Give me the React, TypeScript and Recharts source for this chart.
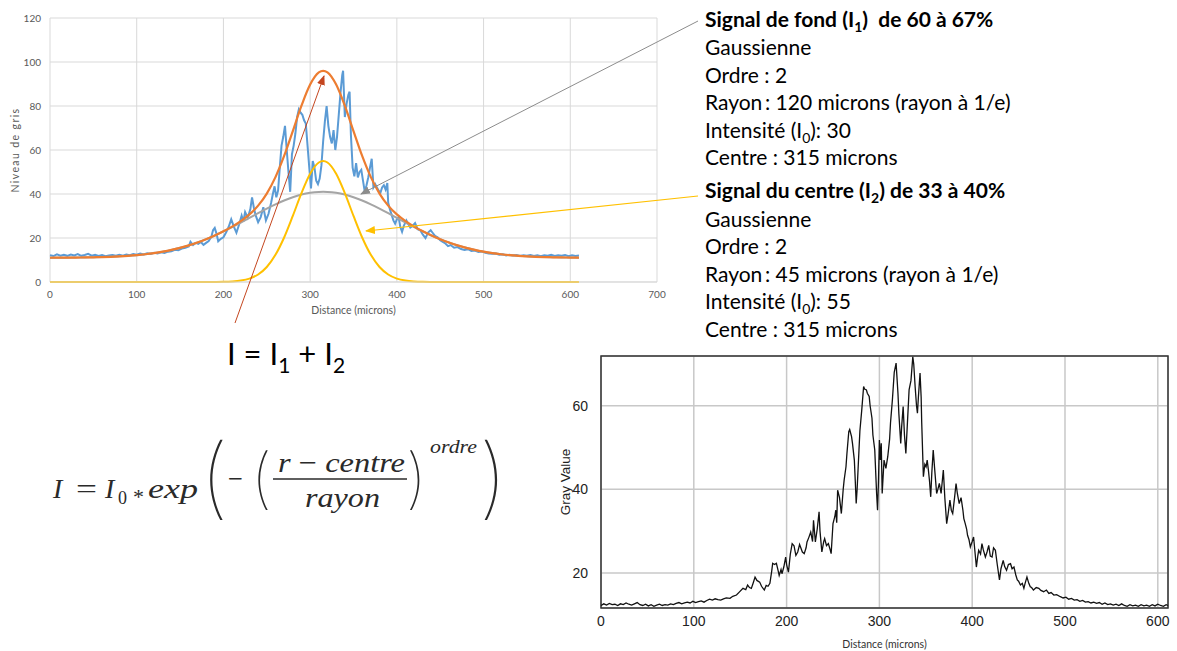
import React from "react";
import { CartesianGrid, Line, LineChart, ReferenceArea, XAxis, YAxis } from "recharts";

// ---- top chart (Excel fit) ----
const topXTicks = [0, 100, 200, 300, 400, 500, 600, 700];
const topYTicks = [0, 20, 40, 60, 80, 100, 120];

const fitDistance = [
  0, 10, 20, 30, 40, 50, 60, 70, 80, 90, 100, 110, 120, 130, 140, 150, 160, 170, 180, 190, 200, 210, 220, 230,
  240, 250, 260, 270, 280, 290, 300, 310, 315, 320, 330, 340, 350, 360, 370, 380, 390, 400, 410, 420, 430, 440,
  450, 460, 470, 480, 490, 500, 510, 520, 530, 540, 550, 560, 570, 580, 590, 600, 610,
];
// signal de fond (I1), grey
const fitBackground = [
  11.03, 11.05, 11.07, 11.11, 11.16, 11.23, 11.33, 11.46, 11.65, 11.89, 12.21, 12.62, 13.14, 13.79, 14.58, 15.53,
  16.66, 17.97, 19.46, 21.14, 22.97, 24.95, 27.03, 29.16, 31.3, 33.37, 35.32, 37.06, 38.55, 39.73, 40.54, 40.95,
  41.0, 40.95, 40.54, 39.73, 38.55, 37.06, 35.32, 33.37, 31.3, 29.16, 27.03, 24.95, 22.97, 21.14, 19.46, 17.97,
  16.66, 15.53, 14.58, 13.79, 13.14, 12.62, 12.21, 11.89, 11.65, 11.46, 11.33, 11.23, 11.16, 11.11, 11.07,
];
// signal du centre (I2), yellow
const fitCentre = [
  0, 0, 0, 0, 0, 0, 0, 0, 0, 0, 0, 0, 0, 0, 0, 0, 0, 0, 0.01, 0.03, 0.08, 0.24, 0.64, 1.55, 3.42, 6.83, 12.35,
  20.23, 30.04, 40.4, 49.21, 54.33, 55.0, 54.33, 49.21, 40.4, 30.04, 20.23, 12.35, 6.83, 3.42, 1.55, 0.64, 0.24,
  0.08, 0.03, 0.01, 0, 0, 0, 0, 0, 0, 0, 0, 0, 0, 0, 0, 0, 0, 0, 0,
];
// I = I1 + I2, orange
const fitTotal = [
  11.03, 11.05, 11.07, 11.11, 11.16, 11.23, 11.33, 11.46, 11.65, 11.89, 12.21, 12.62, 13.14, 13.79, 14.58, 15.53,
  16.66, 17.97, 19.47, 21.17, 23.05, 25.19, 27.67, 30.71, 34.72, 40.2, 47.67, 57.29, 68.59, 80.13, 89.75, 95.28,
  96.0, 95.28, 89.75, 80.13, 68.59, 57.29, 47.67, 40.2, 34.72, 30.71, 27.67, 25.19, 23.05, 21.17, 19.47, 17.97,
  16.66, 15.53, 14.58, 13.79, 13.14, 12.62, 12.21, 11.89, 11.65, 11.46, 11.33, 11.23, 11.16, 11.11, 11.07,
];

// measured profile, blue
const measuredDistance = [
  0, 4, 8, 12, 16, 20, 24, 28, 32, 36, 40, 44, 48, 52, 56, 60, 64, 68, 72, 76, 80, 84, 88, 92, 96, 100, 104, 108,
  112, 116, 120, 124, 128, 132, 136, 140, 144, 148, 152, 156, 160, 162, 165, 168, 171, 174, 177, 180, 183, 186,
  188, 190, 192, 194, 197, 200, 203, 206, 209, 212, 215, 218, 221, 223, 225, 228, 231, 233, 235, 237, 240, 243,
  246, 249, 252, 255, 257, 259, 261, 263, 265, 267, 269, 271, 273, 275, 277, 279, 281, 283, 285, 287, 289, 291,
  293, 295, 297, 299, 301, 303, 305, 307, 309, 311, 313, 315, 317, 319, 321, 323, 325, 327, 329, 331, 333, 335,
  337, 338, 340, 342, 344, 345.5, 347, 349, 351, 353, 355, 357, 359, 361, 363, 365, 367, 369, 371, 373, 375, 377,
  379, 381, 383, 385, 387, 389, 390, 392, 394, 396, 398, 400, 402, 404, 406, 408, 411, 413, 415.5, 418, 421, 424,
  427, 430, 433, 436, 439, 441, 444, 447, 450, 453, 456, 459, 462, 466, 470, 474, 478, 482, 486, 490, 494, 498,
  502, 506, 510, 514, 518, 522, 526, 530, 534, 538, 542, 546, 550, 554, 558, 562, 566, 570, 574, 578, 582, 586,
  590, 594, 598, 602, 606, 610,
];
const measuredGray = [
  12.2, 11.8, 12.6, 12.0, 12.4, 11.9, 12.5, 12.1, 12.7, 11.9, 12.3, 12.8, 12.0, 12.4, 11.8, 12.2, 11.7, 12.1, 12.3,
  11.9, 12.4, 12.0, 12.5, 12.2, 12.7, 12.4, 12.9, 12.5, 13.0, 12.7, 13.3, 13.0, 13.5, 13.2, 13.8, 14.0, 14.6, 14.4,
  15.2, 15.6, 16.2, 18.3, 16.8, 17.8, 17.3, 18.2, 16.9, 17.8, 18.6, 20.5, 23.5, 24.6, 22.0, 18.5, 19.6, 20.3, 22.5,
  25.0, 28.5, 25.2, 22.4, 26.0, 30.2, 27.5, 31.8, 29.2, 33.0, 38.5, 34.0, 30.5, 27.2, 29.5, 34.0, 28.0, 31.0, 36.0,
  40.0, 43.5, 38.5, 41.5, 52.0, 62.0, 66.0, 71.0, 60.0, 50.0, 41.0, 58.0, 62.0, 67.5, 75.0, 78.5, 77.0, 76.0, 73.5,
  72.0, 62.0, 52.0, 42.5, 55.0, 52.0, 46.0, 44.5, 47.0, 53.0, 64.0, 73.0, 80.0, 71.0, 66.0, 63.0, 69.0, 60.0, 66.0,
  76.0, 86.0, 94.0, 96.0, 75.0, 81.0, 85.0, 86.5, 67.0, 52.0, 48.0, 54.0, 47.5, 50.0, 51.0, 46.0, 41.0, 44.0, 47.5,
  52.0, 56.0, 43.0, 44.5, 43.0, 41.5, 40.5, 43.0, 44.0, 42.0, 45.0, 36.0, 33.0, 30.5, 28.0, 26.5, 28.5, 29.5, 25.0,
  22.8, 25.5, 28.0, 26.5, 24.8, 25.5, 26.8, 24.0, 23.5, 21.5, 20.0, 22.5, 23.5, 22.5, 21.0, 20.3, 19.0, 18.2, 17.5,
  16.3, 16.8, 15.6, 15.9, 15.0, 14.6, 14.9, 14.1, 14.3, 13.7, 13.9, 13.3, 13.0, 12.8, 12.9, 12.4, 12.6, 12.1, 12.4,
  12.0, 12.3, 11.8, 12.2, 11.9, 12.3, 11.8, 12.1, 11.7, 12.2, 11.9, 12.4, 11.8, 12.2, 11.9, 12.3, 11.7, 12.1, 11.8,
  12.0,
];

// ---- bottom chart (ImageJ profile) ----
const bottomXTicks = [0, 100, 200, 300, 400, 500, 600];
const bottomYTicks = [20, 40, 60];

const profileDistance = [
  0, 3, 6, 9, 12, 15, 18, 21, 24, 27, 30, 33, 36, 39, 42, 45, 48, 51, 54, 57, 60, 63, 66, 69, 72, 75, 78, 81, 84,
  87, 90, 93, 96, 99, 102, 105, 108, 111, 114, 117, 120, 123, 126, 129, 132, 135, 139, 142, 146, 149, 153, 156,
  158, 160, 162, 164, 166, 168, 171, 173, 176, 178, 180, 182, 184, 185, 187, 189, 191, 192, 194, 195, 197, 199,
  200, 202, 204, 206, 208, 210, 212, 214, 215, 217, 219, 221, 222, 224, 226, 228, 229, 230, 231, 233, 235, 236,
  238, 240, 241, 243, 245, 247, 248, 250, 252, 253, 254, 255, 257, 259, 261, 262, 264, 265, 267, 268, 270, 271,
  273, 274, 275, 276, 278, 279, 281, 283, 284, 286, 287, 289, 290, 292, 293, 295, 297, 298, 299, 300, 301, 302,
  303, 305, 307, 309, 311, 312, 314, 316, 318, 320, 321, 323, 324, 325.6, 327, 328.5, 330, 332, 334, 336, 337,
  338.5, 340, 341, 342, 343.8, 345, 345.6, 347.4, 349, 350.3, 351.5, 352.8, 354, 355.3, 356.5, 358, 359.5, 361.7,
  363, 364.6, 366.5, 368.9, 370.5, 372.5, 374, 376, 377.5, 379, 381, 382.6, 384, 386, 388, 390, 391, 392.5, 394,
  395, 396.5, 398, 400, 401.5, 403, 404.5, 406, 407, 409, 410.5, 412, 414.2, 416, 417.8, 419.5, 421.4, 423, 425,
  427, 429.4, 431, 433.4, 435, 437, 439, 441.3, 443, 445, 447, 448.6, 450, 452, 454, 455.7, 457, 459, 461, 462.6,
  464, 466, 469, 471.8, 474, 477, 480, 482.6, 485, 488, 491, 495, 498, 501, 504, 507, 510, 513, 516, 519, 522,
  525, 528, 531, 534, 537, 540, 543, 546, 549, 552, 555, 558, 561, 564, 567, 570, 573, 576, 579, 582, 585, 588,
  591, 594, 597, 600, 603, 606, 609, 611,
];
const profileGray = [
  12.2, 12.6, 12.3, 12.7, 12.4, 12.5, 12.2, 12.6, 12.4, 12.8, 12.5, 12.3, 12.6, 12.9, 12.4, 12.2, 12.5, 12.1, 12.4,
  12.0, 12.3, 12.5, 12.2, 12.4, 12.3, 12.6, 12.4, 12.7, 12.9, 12.6, 12.8, 13.0, 12.8, 13.2, 12.9, 13.1, 13.3, 13.0,
  13.4, 13.7, 13.5, 13.8, 13.6, 13.5, 13.8, 14.0, 13.9, 14.4, 14.7, 15.4, 16.3, 16.0, 17.1, 16.5, 16.3, 17.6, 19.0,
  18.2, 17.8, 16.8, 15.9, 17.0, 16.8, 17.5, 20.5, 22.3, 22.0, 22.3, 20.4, 19.4, 20.8, 19.8, 21.4, 23.8, 22.0, 20.2,
  24.5, 27.0, 26.5, 24.2, 25.0, 26.8, 26.2, 25.0, 24.6, 26.0, 27.4, 28.5, 29.8, 27.5, 32.6, 30.0, 27.4, 30.5, 34.6,
  30.0, 25.0, 27.5, 28.2, 26.5, 27.0, 25.5, 24.6, 31.8, 33.5, 35.0, 32.0, 39.8, 38.0, 34.2, 40.0, 42.2, 45.4, 48.5,
  53.8, 54.3, 52.6, 51.0, 47.0, 42.0, 36.6, 40.0, 49.4, 54.0, 59.0, 64.6, 64.0, 63.8, 63.0, 62.2, 60.0, 57.0, 53.0,
  49.4, 39.0, 35.0, 42.0, 51.8, 47.0, 51.0, 39.0, 47.0, 45.0, 47.8, 52.0, 56.0, 61.4, 68.0, 70.2, 63.0, 58.0, 51.0,
  55.0, 59.8, 53.0, 48.6, 55.0, 63.8, 66.0, 71.7, 70.0, 64.6, 60.0, 58.2, 62.0, 67.8, 62.0, 56.0, 43.0, 46.0, 45.4,
  47.0, 44.6, 42.0, 38.2, 44.0, 49.4, 45.0, 39.0, 40.0, 41.4, 39.0, 44.6, 38.0, 31.8, 34.0, 37.4, 35.0, 34.2, 38.0,
  41.4, 39.0, 36.6, 38.0, 35.0, 33.0, 31.8, 30.5, 29.0, 28.0, 26.2, 27.5, 28.6, 25.0, 21.4, 24.0, 25.4, 24.5, 27.0,
  25.5, 23.8, 25.0, 26.6, 24.0, 23.8, 26.0, 25.4, 22.0, 18.3, 21.0, 23.0, 21.5, 20.6, 22.0, 22.2, 21.0, 21.4, 19.5,
  18.3, 18.0, 17.1, 17.5, 16.3, 17.5, 19.0, 17.5, 16.7, 16.5, 15.9, 16.5, 16.3, 15.8, 15.5, 15.9, 15.1, 15.3, 14.7,
  14.8, 14.3, 14.0, 14.2, 13.7, 13.9, 13.5, 13.6, 13.2, 13.4, 13.0, 13.1, 12.8, 13.0, 12.7, 12.9, 12.5, 12.8, 12.4,
  12.6, 12.3, 12.5, 12.2, 12.6, 12.2, 12.0, 12.4, 12.1, 12.3, 12.0, 12.4, 12.1, 12.3, 12.0, 12.4, 12.1, 12.5, 12.2,
  12.0, 12.4, 12.2,
];

const fitRows = fitDistance.map((x, i) => ({
  x,
  background: fitBackground[i],
  centre: fitCentre[i],
  total: fitTotal[i],
}));
const measuredRows = measuredDistance.map((x, i) => ({ x, gray: measuredGray[i] }));
const profileRows = profileDistance.map((x, i) => ({ x, gray: profileGray[i] }));

const excelFont = "Lato, 'Open Sans', sans-serif";
const arialFont = "'Liberation Sans', Arial, sans-serif";
const axisGrey = "#595959";

function ExcelChart() {
  return (
    <LineChart width={680} height={322} margin={{ top: 18, right: 23, bottom: 0, left: 0 }}>
      <CartesianGrid stroke="#d9d9d9" />
      <XAxis
        type="number"
        dataKey="x"
        domain={[0, 700]}
        ticks={topXTicks}
        height={40}
        tickSize={0}
        tickMargin={9}
        axisLine={{ stroke: "#d9d9d9" }}
        tick={{ fill: axisGrey, fontSize: 10, fontFamily: excelFont }}
        label={{ value: "Distance (microns)", position: "insideBottom", offset: 8, style: { fill: axisGrey, fontSize: 10.5, fontFamily: excelFont } }}
      />
      <YAxis
        type="number"
        domain={[0, 120]}
        ticks={topYTicks}
        width={50}
        tickSize={0}
        tickMargin={9}
        axisLine={false}
        tick={{ fill: axisGrey, fontSize: 10, fontFamily: excelFont }}
        label={{ value: "Niveau de gris", angle: -90, position: "insideLeft", offset: 15, style: { fill: axisGrey, fontSize: 10.5, fontFamily: excelFont, textAnchor: "middle", letterSpacing: 1.4 } }}
      />
      <Line data={measuredRows} dataKey="gray" type="linear" stroke="#5b9bd5" strokeWidth={2} dot={false} isAnimationActive={false} />
      <Line data={fitRows} dataKey="background" type="monotone" stroke="#a5a5a5" strokeWidth={2} dot={false} isAnimationActive={false} />
      <Line data={fitRows} dataKey="centre" type="monotone" stroke="#ffc000" strokeWidth={2} dot={false} isAnimationActive={false} />
      <Line data={fitRows} dataKey="total" type="monotone" stroke="#ed7d31" strokeWidth={2.2} dot={false} isAnimationActive={false} />
    </LineChart>
  );
}

function ImageJChart() {
  return (
    <LineChart width={637} height={311} margin={{ top: 16, right: 9, bottom: 0, left: 0 }}>
      <CartesianGrid stroke="#c8c8c8" strokeWidth={1.5} />
      <XAxis
        type="number"
        dataKey="x"
        domain={[0, 611]}
        ticks={bottomXTicks}
        height={43}
        tickSize={0}
        tickMargin={8}
        axisLine={false}
        tick={{ fill: "#222", fontSize: 14, fontFamily: arialFont }}
        label={{ value: "Distance (microns)", position: "insideBottom", offset: 3, style: { fill: "#333", fontSize: 10.5, fontFamily: excelFont } }}
      />
      <YAxis
        type="number"
        domain={[11.6, 71.9]}
        ticks={bottomYTicks}
        width={61}
        tickSize={0}
        tickMargin={13}
        axisLine={false}
        tick={{ fill: "#222", fontSize: 14, fontFamily: arialFont }}
        label={{ value: "Gray Value", angle: -90, position: "insideLeft", offset: 25, style: { fill: "#222", fontSize: 13.5, fontFamily: arialFont, textAnchor: "middle" } }}
      />
      <Line data={profileRows} dataKey="gray" type="linear" stroke="#111" strokeWidth={1.3} dot={false} isAnimationActive={false} />
      <ReferenceArea x1={0} x2={611} y1={11.6} y2={71.9} fill="none" stroke="#333" strokeWidth={1.5} ifOverflow="visible" />
    </LineChart>
  );
}

const noteLines = [
  { y: 27, bold: true, parts: ["Signal de fond (I", "1", ")\u00a0 de 60 à 67%"] },
  { y: 55, parts: ["Gaussienne"] },
  { y: 82.5, parts: ["Ordre : 2"] },
  { y: 110, parts: ["Rayon\u2009: 120 microns (rayon à 1/e)"] },
  { y: 137.7, parts: ["Intensité (I", "0", "): 30"] },
  { y: 165, parts: ["Centre : 315 microns"] },
  { y: 198.3, bold: true, parts: ["Signal du centre (I", "2", ") de 33 à 40%"] },
  { y: 226.7, parts: ["Gaussienne"] },
  { y: 254, parts: ["Ordre : 2"] },
  { y: 281.7, parts: ["Rayon\u2009: 45 microns (rayon à 1/e)"] },
  { y: 309.3, parts: ["Intensité (I", "0", "): 55"] },
  { y: 336.7, parts: ["Centre : 315 microns"] },
];

// tall, thin parenthesis glyph for the formula
function Paren({ x, top, bottom, fs, sx, close }: { x: number; top: number; bottom: number; fs: number; sx: number; close?: boolean }) {
  const asc = 0.8;
  const desc = 0.22;
  const sy = (bottom - top) / ((asc + desc) * fs);
  const yb = bottom - desc * fs * sy;
  return (
    <text transform={`translate(${x},${yb}) scale(${sx},${sy})`} fontSize={fs} fontFamily="Inter, 'DejaVu Sans', sans-serif" fontWeight={100}>
      {close ? ")" : "("}
    </text>
  );
}

function Overlay() {
  const serif = "'Liberation Serif', 'DejaVu Serif', serif";
  return (
    <svg width={1177} height={651} style={{ position: "absolute", left: 0, top: 0, pointerEvents: "none" }}>
      <defs>
        <marker id="headRed" markerWidth="10" markerHeight="8" refX="9" refY="4" orient="auto" markerUnits="userSpaceOnUse">
          <path d="M0,0 L10,4 L0,8 z" fill="#c4461f" />
        </marker>
        <marker id="headGrey" markerWidth="10" markerHeight="8" refX="9" refY="4" orient="auto" markerUnits="userSpaceOnUse">
          <path d="M0,0 L10,4 L0,8 z" fill="#8c8c8c" />
        </marker>
        <marker id="headYellow" markerWidth="10" markerHeight="8" refX="9" refY="4" orient="auto" markerUnits="userSpaceOnUse">
          <path d="M0,0 L10,4 L0,8 z" fill="#ffc000" />
        </marker>
      </defs>

      <line x1={235} y1={323} x2={324} y2={76} stroke="#c4461f" strokeWidth={1} markerEnd="url(#headRed)" />
      <line x1={698} y1={21} x2={361} y2={194} stroke="#8c8c8c" strokeWidth={1} markerEnd="url(#headGrey)" />
      <line x1={698} y1={196} x2={366} y2={231} stroke="#ffc000" strokeWidth={1.2} markerEnd="url(#headYellow)" />

      <g fontFamily="Lato, 'Open Sans', sans-serif" fontSize={21} fill="#000">
        {noteLines.map((l) => (
          <text key={l.y} x={705} y={l.y} fontWeight={l.bold ? 700 : 400}>
            <tspan>{l.parts[0]}</tspan>
            {l.parts.length > 1 && (
              <>
                <tspan fontSize={14} dy={5}>{l.parts[1]}</tspan>
                <tspan dy={-5}>{l.parts[2]}</tspan>
              </>
            )}
          </text>
        ))}
      </g>

      <text x={227} y={365} fontFamily="Lato, 'Open Sans', sans-serif" fontSize={31} fill="#000">
        <tspan>I = I</tspan>
        <tspan fontSize={21} dy={8}>1</tspan>
        <tspan dy={-8}>{"\u00a0+ I"}</tspan>
        <tspan fontSize={21} dy={8}>2</tspan>
      </text>

      <g fontFamily={serif} fill="#2a2a2a">
        <text x={53} y={498} fontSize={28} fontStyle="italic">I</text>
        <text x={76} y={498} fontSize={28} textLength={21} lengthAdjust="spacingAndGlyphs">=</text>
        <text x={105} y={498} fontSize={28} fontStyle="italic">I</text>
        <text x={118} y={504} fontSize={18}>0</text>
        <text x={133} y={504} fontSize={22}>*</text>
        <text x={148} y={498} fontSize={28} fontStyle="italic" textLength={50} lengthAdjust="spacingAndGlyphs">exp</text>
        <Paren x={199} top={437} bottom={527} fs={80} sx={1.2} />
        <text x={228} y={488} fontSize={28} textLength={15} lengthAdjust="spacingAndGlyphs">−</text>
        <Paren x={250} top={448} bottom={515} fs={60} sx={1.2} />
        <text x={278} y={472} fontSize={28} textLength={127} lengthAdjust="spacingAndGlyphs">
          <tspan fontStyle="italic">r</tspan>
          <tspan>{"\u00a0−\u00a0"}</tspan>
          <tspan fontStyle="italic">centre</tspan>
        </text>
        <line x1={273} y1={479} x2={407} y2={479} stroke="#2a2a2a" strokeWidth={1.3} />
        <text x={305} y={507} fontSize={28} fontStyle="italic" textLength={75} lengthAdjust="spacingAndGlyphs">rayon</text>
        <Paren x={405} top={448} bottom={515} fs={60} sx={1.2} close />
        <text x={430} y={453} fontSize={18} fontStyle="italic" textLength={47} lengthAdjust="spacingAndGlyphs">ordre</text>
        <Paren x={478} top={437} bottom={527} fs={80} sx={1.2} close />
      </g>
    </svg>
  );
}

export default function App() {
  return (
    <div style={{ position: "absolute", left: 0, top: 0, width: 1177, height: 651, background: "#fff", overflow: "hidden" }}>
      <div style={{ position: "absolute", left: 0, top: 0 }}>
        <ExcelChart />
      </div>
      <div style={{ position: "absolute", left: 540, top: 340 }}>
        <ImageJChart />
      </div>
      <Overlay />
    </div>
  );
}
